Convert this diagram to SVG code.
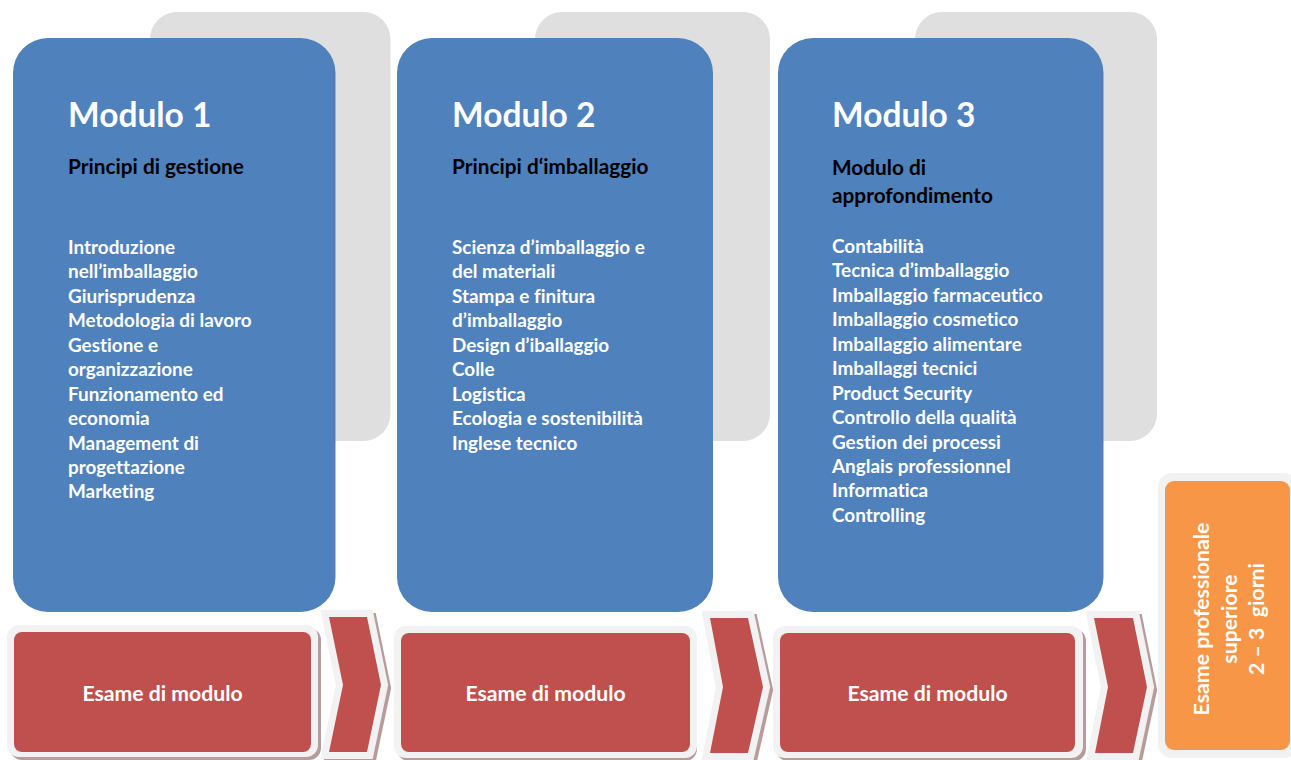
<svg xmlns="http://www.w3.org/2000/svg" width="1291" height="760" viewBox="0 0 1291 760">
<defs>
<style>
.back{fill:#dfdfdf}
.blue{fill:#4f81bd}
.frame{fill:#f2f2f2}
.shadow{fill:#b89c9c}
.red{fill:#c0504d}
.orange{fill:#f79646}
.t{font-family:Lato,"Open Sans",sans-serif;font-weight:bold;font-variant-ligatures:none}
.h1{font-size:33.5px;fill:#ffffff}
.h2{font-size:20.8px;fill:#000000}
.li{font-size:18.9px;fill:#ffffff}
.ex{font-size:21.2px;fill:#ffffff}
.or{font-size:21.3px;fill:#ffffff}
</style>
</defs>
<rect width="1291" height="760" fill="#ffffff"/>

<g id="module1">
<rect class="back" x="150" y="12" width="240.5" height="429" rx="27"/>
<rect class="blue" x="13" y="38" width="322.5" height="574" rx="35"/>
<text class="t h1" x="68" y="127">Modulo 1</text>
<text class="t h2" x="68" y="174">Principi di gestione</text>
<text class="t li" x="68" y="254">
<tspan x="68" dy="0">Introduzione</tspan>
<tspan x="68" dy="24.44">nell’imballaggio</tspan>
<tspan x="68" dy="24.44">Giurisprudenza</tspan>
<tspan x="68" dy="24.44">Metodologia di lavoro</tspan>
<tspan x="68" dy="24.44">Gestione e</tspan>
<tspan x="68" dy="24.44">organizzazione</tspan>
<tspan x="68" dy="24.44">Funzionamento ed</tspan>
<tspan x="68" dy="24.44">economia</tspan>
<tspan x="68" dy="24.44">Management di</tspan>
<tspan x="68" dy="24.44">progettazione</tspan>
<tspan x="68" dy="24.44">Marketing</tspan>
</text>
</g>

<g id="module2">
<rect class="back" x="535" y="12" width="235" height="429" rx="27"/>
<rect class="blue" x="397" y="38" width="316" height="574" rx="35"/>
<text class="t h1" x="452" y="127">Modulo 2</text>
<text class="t h2" x="452" y="174">Principi d‘imballaggio</text>
<text class="t li" x="452" y="254">
<tspan x="452" dy="0">Scienza d’imballaggio e</tspan>
<tspan x="452" dy="24.44">del materiali</tspan>
<tspan x="452" dy="24.44">Stampa e finitura</tspan>
<tspan x="452" dy="24.44">d’imballaggio</tspan>
<tspan x="452" dy="24.44">Design d’iballaggio</tspan>
<tspan x="452" dy="24.44">Colle</tspan>
<tspan x="452" dy="24.44">Logistica</tspan>
<tspan x="452" dy="24.44">Ecologia e sostenibilità</tspan>
<tspan x="452" dy="24.44">Inglese tecnico</tspan>
</text>
</g>

<g id="module3">
<rect class="back" x="915" y="12" width="242" height="429" rx="27"/>
<rect class="blue" x="778" y="38" width="325.5" height="574" rx="35"/>
<text class="t h1" x="832" y="127">Modulo 3</text>
<text class="t h2" x="832" y="175">
<tspan x="832" dy="0">Modulo di</tspan>
<tspan x="832" dy="27.7">approfondimento</tspan>
</text>
<text class="t li" x="832" y="253">
<tspan x="832" dy="0">Contabilità</tspan>
<tspan x="832" dy="24.44">Tecnica d’imballaggio</tspan>
<tspan x="832" dy="24.44">Imballaggio farmaceutico</tspan>
<tspan x="832" dy="24.44">Imballaggio cosmetico</tspan>
<tspan x="832" dy="24.44">Imballaggio alimentare</tspan>
<tspan x="832" dy="24.44">Imballaggi tecnici</tspan>
<tspan x="832" dy="24.44">Product Security</tspan>
<tspan x="832" dy="24.44">Controllo della qualità</tspan>
<tspan x="832" dy="24.44">Gestion dei processi</tspan>
<tspan x="832" dy="24.44">Anglais professionnel</tspan>
<tspan x="832" dy="24.44">Informatica</tspan>
<tspan x="832" dy="24.44">Controlling</tspan>
</text>
</g>

<g id="exam1">
<rect class="shadow" x="10" y="628" width="311" height="132" rx="12"/>
<rect class="frame" x="7" y="625" width="311" height="132" rx="12"/>
<rect class="red" x="14" y="632" width="297" height="120" rx="8"/>
<text class="t ex" x="162.5" y="701" text-anchor="middle">Esame di modulo</text>
</g>
<g id="exam2">
<rect class="shadow" x="397" y="629" width="300" height="132" rx="12"/>
<rect class="frame" x="394" y="626" width="303" height="132" rx="12"/>
<rect class="red" x="401" y="633" width="289" height="119" rx="8"/>
<text class="t ex" x="545.5" y="701" text-anchor="middle">Esame di modulo</text>
</g>
<g id="exam3">
<rect class="shadow" x="776" y="629" width="310" height="132" rx="12"/>
<rect class="frame" x="773" y="626" width="310" height="132" rx="12"/>
<rect class="red" x="780" y="633" width="295" height="119" rx="8"/>
<text class="t ex" x="927.5" y="701" text-anchor="middle">Esame di modulo</text>
</g>

<g id="final-exam">
<rect class="frame" x="1158" y="473" width="140" height="285" rx="14"/>
<rect class="orange" x="1165" y="481" width="125" height="269" rx="9"/>
<text class="t or" transform="translate(1209,619) rotate(-90)" text-anchor="middle">Esame professionale</text>
<text class="t or" transform="translate(1236.5,619) rotate(-90)" text-anchor="middle">superiore</text>
<text class="t or" transform="translate(1264,619) rotate(-90)" text-anchor="middle" xml:space="preserve">2 – 3  giorni</text>
</g>

<g id="connectors">
<polygon fill="#b89c9c" transform="translate(3,3)" points="329,617 367,617 381,685 367,752 329,752 343,685" stroke="#b89c9c" stroke-width="14" stroke-linejoin="miter"/>
<polygon class="frame" points="329,617 367,617 381,685 367,752 329,752 343,685" stroke="#f2f2f2" stroke-width="14" stroke-linejoin="miter"/>
<polygon class="red" points="329,617 367,617 381,685 367,752 329,752 343,685"/>
<polygon fill="#b89c9c" transform="translate(3,3)" points="710,618 748,618 763,687 748,753 710,753 723,687" stroke="#b89c9c" stroke-width="14" stroke-linejoin="miter"/>
<polygon class="frame" points="710,618 748,618 763,687 748,753 710,753 723,687" stroke="#f2f2f2" stroke-width="14" stroke-linejoin="miter"/>
<polygon class="red" points="710,618 748,618 763,687 748,753 710,753 723,687"/>
<polygon fill="#b89c9c" transform="translate(3,3)" points="1094,618 1133,618 1147,687 1133,753 1095,753 1108,687" stroke="#b89c9c" stroke-width="14" stroke-linejoin="miter"/>
<polygon class="frame" points="1094,618 1133,618 1147,687 1133,753 1095,753 1108,687" stroke="#f2f2f2" stroke-width="14" stroke-linejoin="miter"/>
<polygon class="red" points="1094,618 1133,618 1147,687 1133,753 1095,753 1108,687"/>
</g>
</svg>
